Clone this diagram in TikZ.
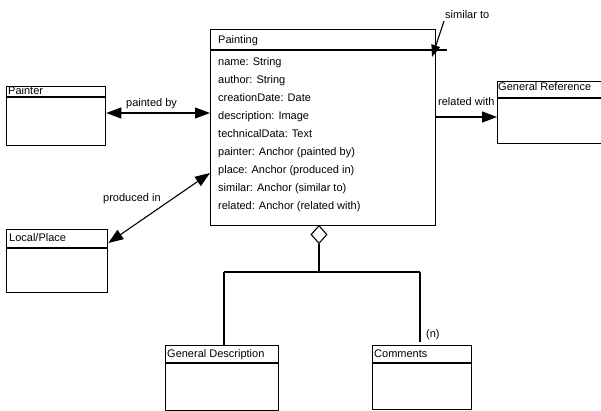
\documentclass[tikz,border=0pt]{standalone}
\usepackage{fontspec}
\setmainfont{Liberation Sans}
\usetikzlibrary{arrows.meta,shapes.geometric}
\tikzset{
  cls/.style={draw, line width=1.3pt, inner sep=0pt, anchor=north west},
  hline/.style={line width=1.1pt},
  lbl/.style={inner sep=0pt, anchor=base west, font=\fontsize{11}{13}\selectfont},
  conn/.style={line width=1.1pt},
  tip/.style={-{Triangle[length=15pt,width=11pt]}},
  tips/.style={{Triangle[length=15pt,width=11pt]}-{Triangle[length=15pt,width=11pt]}},
}
\begin{document}
\begin{tikzpicture}[x=1pt,y=-1pt]
\useasboundingbox (0,0) rectangle (601,411);
% classes
\node[cls, minimum width=225pt, minimum height=196pt] (painting) at (210,29) {};
\node[cls, minimum width=99pt, minimum height=59pt] (painter) at (6,86) {};
\node[cls, minimum width=101pt, minimum height=63pt] (place) at (6,229) {};
\node[cls, minimum width=110pt, minimum height=62pt] (genref) at (497,81) {};
\node[cls, minimum width=113pt, minimum height=65pt] (gendesc) at (165,345) {};
\node[cls, minimum width=99pt, minimum height=64pt] (comments) at (372,345) {};
% header lines
\draw[hline] (painting.west |- 0,50) -- (447,50);
\draw[hline] (painter.west |- 0,97) -- (painter.east |- 0,97);
\draw[hline] (place.west |- 0,248) -- (place.east |- 0,248);
\draw[hline] (genref.west |- 0,98) -- (genref.east |- 0,98);
\draw[hline] (gendesc.west |- 0,363) -- (gendesc.east |- 0,363);
\draw[hline] (comments.west |- 0,363) -- (comments.east |- 0,363);
% titles
\node[lbl] (tpainting) at (218,44) {Painting};
\node[lbl] (tpainter) at (8,95) {Painter};
\node[lbl] (tplace) at (9,241) {Local/Place};
\node[lbl] (tgenref) at (498,91) {General Reference};
\node[lbl] (tgendesc) at (167,357) {General Description};
\node[lbl] (tcomments) at (374,357) {Comments};
% attributes
\foreach \t [count=\i] in {name: String, author: String, creationDate: Date,
  description: Image, technicalData: Text, painter: Anchor (painted by),
  place: Anchor (produced in), similar: Anchor (similar to),
  related: Anchor (related with)}
  \node[lbl] (attr\i) at (218,{48+\i*18}) {\t};
% associations
\draw[conn,tips] (painter.east |- 0,113) -- (painting.west |- 0,113);
\node[lbl] (lpainted) at (126,107) {painted by};
\draw[conn,tips] (place.east |- 0,243) -- (painting.west |- 0,173);
\node[lbl] (lproduced) at (103,202) {produced in};
\draw[conn,tip] (painting.east |- 0,117) -- (genref.west |- 0,117);
\node[lbl] (lrelated) at (438,106) {related with};
\coordinate (simstart) at (444,21);
\coordinate (simend) at (432,57);
\draw[conn,-{Triangle[length=12pt,width=9pt]}] (simstart) -- (simend);
\node[lbl] (lsimilar) at (445,19) {similar to};
% aggregation
\node[draw, line width=1.1pt, diamond, minimum width=16pt, minimum height=18pt, inner sep=0pt, anchor=north] (dia) at (319,225) {};
\coordinate (j) at (319,272);
\coordinate (jl) at (224,272);
\coordinate (jr) at (420,272);
\coordinate (cn) at (420,342);
\draw[conn] (dia.south) -- (j);
\draw[conn] (jl) -- (jr);
\draw[conn] (jl) -- (jl |- gendesc.north);
\draw[conn] (jr) -- (cn);
\node[lbl] (ln) at (426,337) {(n)};
\end{tikzpicture}
\end{document}
